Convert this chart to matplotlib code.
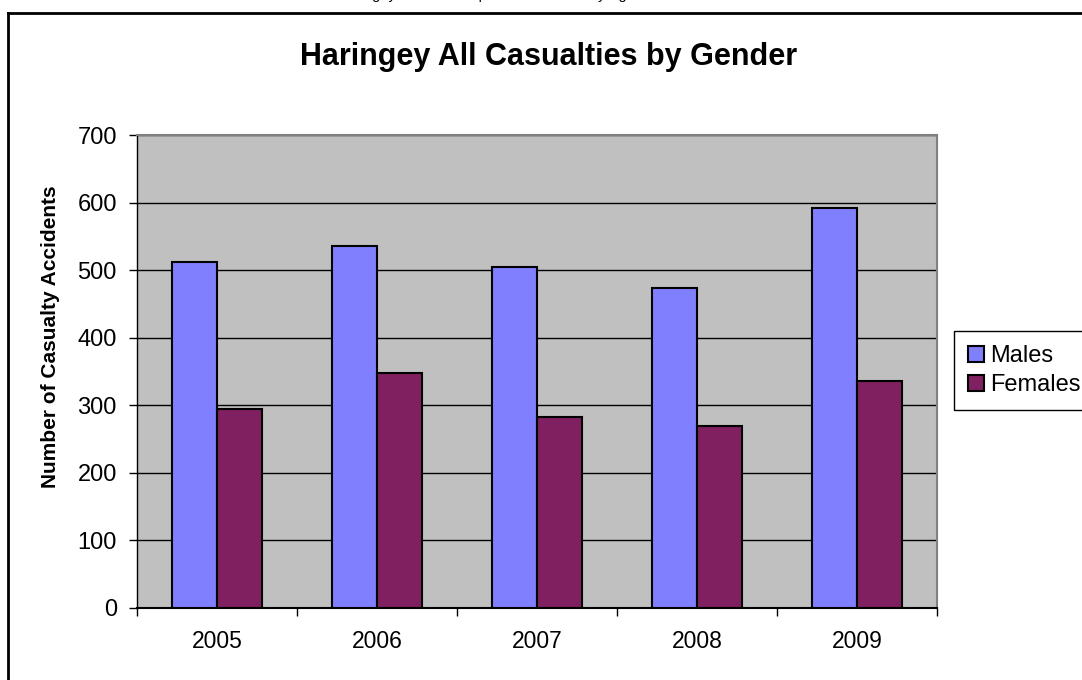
import matplotlib
matplotlib.use("Agg")
import matplotlib.pyplot as plt
import numpy as np
from matplotlib.lines import Line2D
from matplotlib.ticker import MultipleLocator, FixedLocator, NullFormatter

plt.rcParams['font.family'] = ['Liberation Sans', 'DejaVu Sans']

years = ["2005", "2006", "2007", "2008", "2009"]
males = [512, 536, 505, 474, 592]
females = [295, 348, 283, 269, 336]
series_names = ["Males", "Females"]
title = "Haringey All Casualties by Gender"
ylabel = "Number of Casualty Accidents"

W, H = 1082, 680
fig = plt.figure(figsize=(W / 100, H / 100), dpi=100)
fig.patch.set_facecolor("white")

# axes placement in pixels
left, right, top, bottom = 137, 937, 135, 608
ax = fig.add_axes([left / W, 1 - bottom / H, (right - left) / W, (bottom - top) / H])
ax.set_facecolor("#C0C0C0")

x = np.arange(len(years))
bw = 0.28125
ax.bar(x - bw / 2, males, width=bw, color="#8080FF", edgecolor="black", linewidth=1.5,
       label=series_names[0], zorder=3)
ax.bar(x + bw / 2, females, width=bw, color="#802060", edgecolor="black", linewidth=1.5,
       label=series_names[1], zorder=3)

ax.set_xlim(-0.5, len(years) - 0.5)
ax.set_ylim(0, 700)
ax.yaxis.set_major_locator(MultipleLocator(100))
ax.yaxis.grid(True, color="black", linewidth=1.0, zorder=1)
ax.set_axisbelow(True)

# x ticks at category boundaries, labels at centers
ax.xaxis.set_major_locator(FixedLocator(np.arange(-0.5, len(years), 1.0)))
ax.xaxis.set_major_formatter(NullFormatter())
ax.xaxis.set_minor_locator(FixedLocator(x))
ax.set_xticklabels(years, minor=True)
ax.tick_params(axis="x", which="major", length=6, width=1, color="black", direction="out")
ax.tick_params(axis="x", which="minor", length=0, pad=16, labelsize=16.5)
ax.tick_params(axis="y", which="major", length=6, width=1, color="black", direction="out",
               pad=8.5, labelsize=17)

for s in ["top", "right"]:
    ax.spines[s].set_color("#808080")
    ax.spines[s].set_linewidth(1.5)
ax.spines["left"].set_color("black")
ax.spines["bottom"].set_color("black")
ax.spines["left"].set_linewidth(1.0)
ax.spines["bottom"].set_linewidth(1.5)

ax.set_ylabel(ylabel, fontsize=15, fontweight="bold", va="center")
ax.yaxis.set_label_coords((51 - left) / (right - left), (bottom - 336.5) / (bottom - top))

fig.text(549 / W, 1 - 57 / H, title, ha="center", va="center", fontsize=22, fontweight="bold")

leg = ax.legend(loc="upper left", bbox_to_anchor=(954 / W, 1 - 331 / H),
                bbox_transform=fig.transFigure, borderaxespad=0, fontsize=17,
                fancybox=False, frameon=True, edgecolor="black", framealpha=1,
                handlelength=0.65, handleheight=0.65, handletextpad=0.3,
                labelspacing=0.3, borderpad=0.6)
leg.get_frame().set_linewidth(1.0)

# outer chart border (partially cut off)
fig.add_artist(Line2D([8 / W, 8 / W], [0, 1 - 12.5 / H], transform=fig.transFigure,
                      color="black", linewidth=2))
fig.add_artist(Line2D([8 / W, 1], [1 - 12.5 / H, 1 - 12.5 / H], transform=fig.transFigure,
                      color="black", linewidth=2))

# caption clipped at the top edge (as in the reference)
fig.text(337 / W, 1 + 1 / H, "Haringey Collision Report - Casualties by Age and Gender",
         ha="left", va="baseline", fontsize=10.5)

fig.savefig("out.png", dpi=100)
